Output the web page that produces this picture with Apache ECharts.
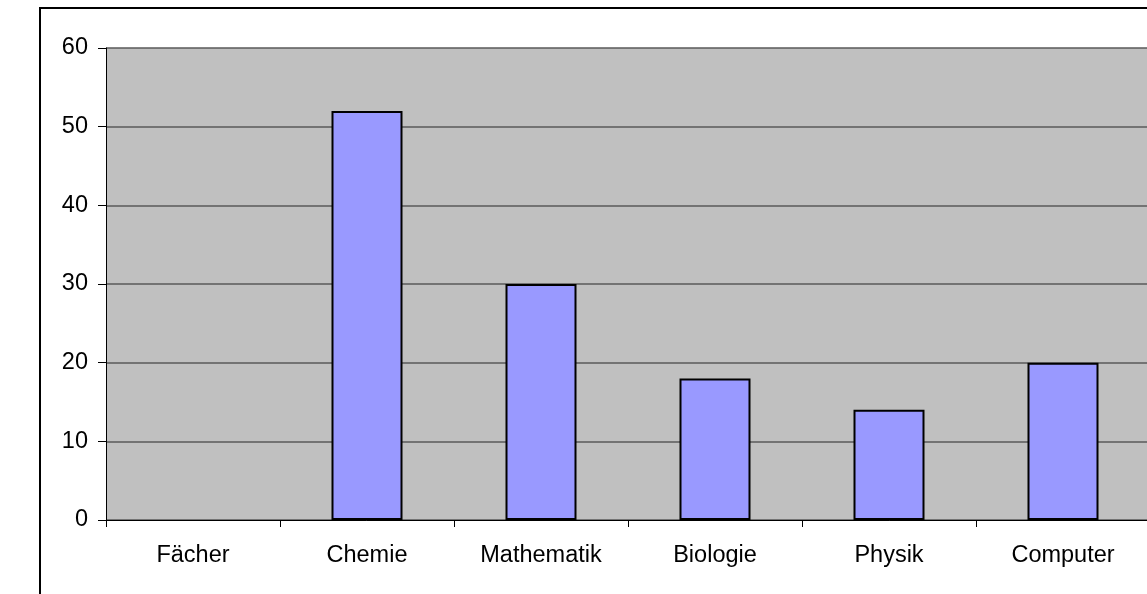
<!DOCTYPE html>
<html><head><meta charset="utf-8">
<script src="https://cdn.jsdelivr.net/npm/echarts@6/dist/echarts.min.js"></script>
<style>html,body{margin:0;padding:0;background:#fff;overflow:hidden;width:1147px;height:594px}#c{width:1150px;height:594px}</style>
</head><body><div id="c"></div>
<script>
const categories = ['Fächer','Chemie','Mathematik','Biologie','Physik','Computer'];
const values = [null, 52, 30, 18, 14, 20];
const yTicks = [0, 10, 20, 30, 40, 50, 60];

const chart = echarts.init(document.getElementById('c'), null, {renderer:'canvas'});
chart.setOption({
  animation:false,
  backgroundColor:'#ffffff',
  textStyle:{fontFamily:'Liberation Sans, Arial, sans-serif'},
  graphic:[{type:'rect', z:100, silent:true,
    shape:{x:40, y:8, width:1200, height:700},
    style:{fill:'none', stroke:'#000', lineWidth:2}}],
  grid:{left:106, right:0, top:48, bottom:74, show:true, backgroundColor:'#c0c0c0', borderWidth:0},
  xAxis:{type:'category', data:categories,
    axisLine:{lineStyle:{color:'#000', width:1}},
    axisTick:{show:true, length:7, lineStyle:{color:'#000'}},
    axisLabel:{color:'#000', fontSize:23.5, margin:24, fontFamily:'Liberation Sans'}},
  yAxis:{type:'value', min:yTicks[0], max:yTicks[yTicks.length-1], interval:10,
    axisLine:{show:true, lineStyle:{color:'#000', width:1}},
    axisTick:{show:true, length:8, lineStyle:{color:'#000'}},
    axisLabel:{color:'#000', fontSize:23.5, margin:18, fontFamily:'Liberation Sans'},
    splitLine:{show:true, lineStyle:{color:'#5a5a5a', width:1.5}}},
  series:[{type:'bar', data:values, barWidth:71,
    itemStyle:{color:'#9999ff', borderColor:'#000', borderWidth:2}}]
});
</script></body></html>
